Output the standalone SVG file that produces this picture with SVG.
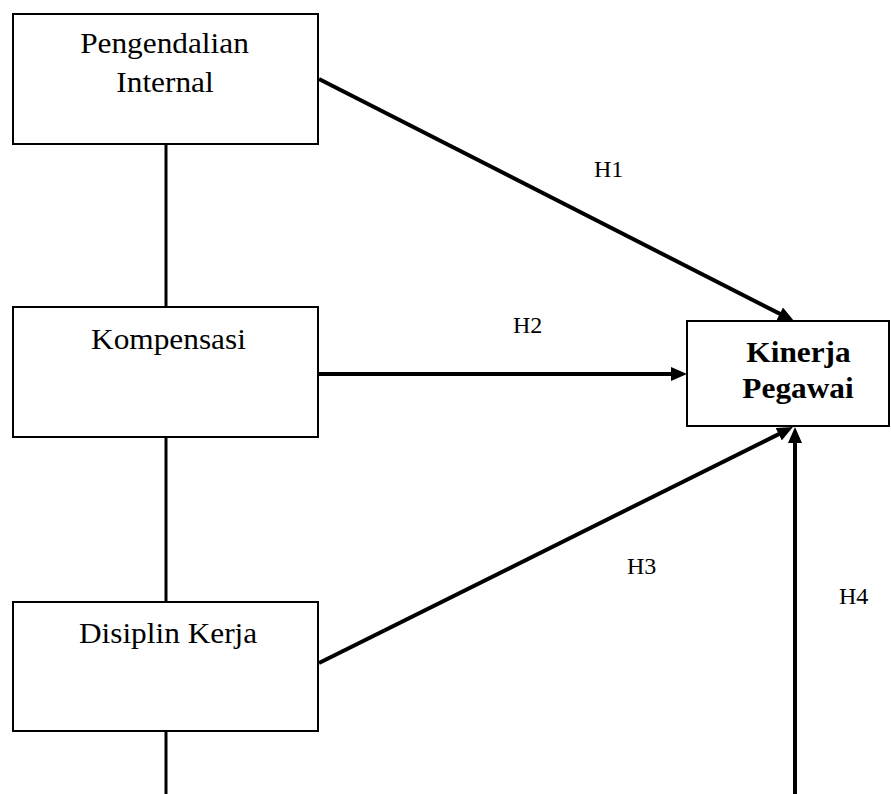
<svg xmlns="http://www.w3.org/2000/svg" width="891" height="794" viewBox="0 0 891 794">
  <style>
    .box { fill: #fff; stroke: #000; stroke-width: 2; }
    .lbl { font-family: "Liberation Serif", "Times New Roman", serif; font-size: 29px; fill: #000; text-anchor: middle; }
    .bold { font-weight: bold; }
    .h { font-family: "Liberation Serif", "Times New Roman", serif; font-size: 24px; fill: #000; }
    .conn { stroke: #000; stroke-width: 4; fill: none; }
    .link { stroke: #000; stroke-width: 3; fill: none; }
  </style>
  <defs>
    <marker id="arr" markerUnits="userSpaceOnUse" markerWidth="16" markerHeight="14" refX="8" refY="7" orient="auto" viewBox="0 0 16 14">
      <path d="M0,0 L16,7 L0,14 z" fill="#000"/>
    </marker>
  </defs>

  <g id="connectors">
    <line class="link" x1="166" y1="144" x2="166" y2="307"/>
    <line class="link" x1="166" y1="437" x2="166" y2="602"/>
    <line class="link" x1="166" y1="731" x2="166" y2="794"/>
    <line class="conn" x1="319" y1="79" x2="786.9" y2="317.4" marker-end="url(#arr)"/>
    <line class="conn" x1="319" y1="374" x2="679" y2="374" marker-end="url(#arr)"/>
    <line class="conn" x1="319" y1="663" x2="785.8" y2="430.6" marker-end="url(#arr)"/>
    <line class="conn" x1="795" y1="794" x2="795" y2="435" marker-end="url(#arr)"/>
    <text class="h" x="594" y="177">H1</text>
    <text class="h" x="513" y="333">H2</text>
    <text class="h" x="627" y="574">H3</text>
    <text class="h" x="839" y="604">H4</text>
  </g>

  <g id="pengendalian">
    <rect class="box" x="13" y="14" width="305" height="130"/>
    <g transform="scale(1.08,1)">
      <text class="lbl" x="152.3" y="53">Pengendalian</text>
      <text class="lbl" x="152.8" y="92">Internal</text>
    </g>
  </g>

  <g id="kompensasi">
    <rect class="box" x="13" y="307" width="305" height="130"/>
    <g transform="scale(1.08,1)">
      <text class="lbl" x="156" y="349">Kompensasi</text>
    </g>
  </g>

  <g id="disiplin">
    <rect class="box" x="13" y="602" width="305" height="129"/>
    <g transform="scale(1.08,1)">
      <text class="lbl" x="155.6" y="643">Disiplin Kerja</text>
    </g>
  </g>

  <g id="kinerja">
    <rect class="box" x="687" y="321" width="202" height="105"/>
    <g transform="scale(1.08,1)">
      <text class="lbl bold" x="739.4" y="362">Kinerja</text>
      <text class="lbl bold" x="738.9" y="398">Pegawai</text>
    </g>
  </g>
</svg>
